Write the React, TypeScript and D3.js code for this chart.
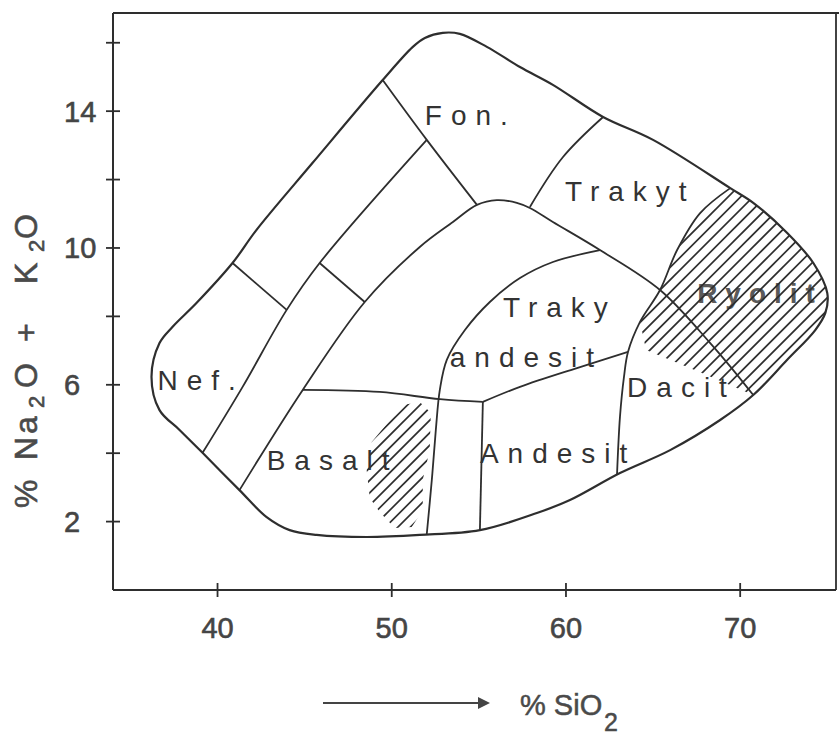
import React from 'react';
import * as d3 from 'd3';

type P = [number, number];

const W = 839;
const H = 740;

// axis ticks
const xTicks = [40, 50, 60, 70];
const yTicks = [2, 4, 6, 8, 10, 12, 14, 16];
const yTickLabels = [2, 6, 10, 14];

// outer boundary of the field (SiO2 %, Na2O+K2O %)
const outerBoundary: P[] = [
  [51.21, 15.88], [51.9, 16.14], [52.93, 16.29], [53.91, 16.26], [55.46, 15.88],
  [57.36, 15.29], [59.25, 14.77], [62.13, 13.83], [65.0, 13.16], [69.43, 11.75],
  [70.75, 11.32], [72.7, 10.44], [74.2, 9.56], [75.0, 8.68], [74.89, 8.1],
  [74.31, 7.6], [72.7, 6.73], [70.75, 5.7], [68.85, 4.97], [65.98, 4.09],
  [63.1, 3.42], [60.23, 2.63], [58.33, 2.25], [55.06, 1.75], [51.61, 1.61],
  [48.56, 1.55], [45.69, 1.61], [44.14, 1.75], [42.82, 2.13], [41.26, 2.92],
  [39.14, 4.01], [37.82, 4.68], [36.67, 5.26], [36.21, 6.23], [36.67, 7.22],
  [37.41, 7.69], [38.79, 8.39], [40.86, 9.56], [42.24, 10.53], [45.46, 12.49],
  [49.48, 14.91],
];

// internal dividing lines
const fonLeft: P[] = [[49.48, 14.91], [52.01, 13.16], [54.89, 11.26]];
const fonRight: P[] = [[62.13, 13.83], [59.83, 12.66], [57.93, 11.2]];
const lineB: P[] = [[52.01, 13.16], [45.86, 9.56], [43.97, 8.19], [41.44, 5.94], [39.14, 4.01]];
const cross1: P[] = [[40.86, 9.56], [43.97, 8.19]];
const cross2: P[] = [[45.86, 9.56], [48.45, 8.42]];
const lineC: P[] = [
  [41.26, 2.92], [44.89, 5.85], [48.45, 8.42], [51.61, 10.03], [53.51, 10.76],
  [54.89, 11.26], [56.03, 11.4], [57.18, 11.32], [57.93, 11.17], [59.25, 10.76],
  [61.95, 9.94], [65.4, 8.77], [68.28, 7.22], [69.6, 6.43], [70.75, 5.7],
];
const basaltTop: P[] = [[44.89, 5.85], [49.31, 5.79], [52.76, 5.58], [55.23, 5.5]];
const andesiteTop: P[] = [[55.23, 5.5], [57.36, 5.94], [60.63, 6.49], [63.56, 6.96]];
const trachyandesiteArc: P[] = [
  [61.95, 9.94], [59.25, 9.59], [57.36, 9.12], [55.63, 8.42], [54.2, 7.6],
  [53.16, 6.73], [52.76, 5.85], [52.53, 4.68], [52.3, 3.22], [52.01, 1.63],
];
const andesiteLeft: P[] = [[55.23, 5.5], [55.06, 1.75]];
const daciteArc: P[] = [
  [69.43, 11.75], [67.7, 11.02], [66.38, 9.94], [65.4, 8.77], [64.25, 7.84],
  [63.56, 6.96], [63.33, 6.23], [63.1, 5.06], [62.93, 3.36],
];

const dividers: P[][] = [
  fonLeft, fonRight, lineB, cross1, cross2, lineC, basaltTop, andesiteTop,
  trachyandesiteArc, andesiteLeft, daciteArc,
];

// hatched areas
const rhyoliteHatch: P[] = [
  [69.43, 11.75], [71, 13], [78, 13], [78, 4.5], [72.5, 5.3], [70.75, 5.7],
  [67.7, 6.37], [64.6, 7.02], [64.25, 7.84], [65.4, 8.77], [66.38, 9.94], [67.7, 11.02],
];
const basaltHatch: P[] = [
  [48.85, 4.33], [50.63, 5.41], [51.61, 5.5], [52.24, 5.18], [52.18, 4.09],
  [51.78, 3.22], [51.78, 2.34], [51.15, 1.84], [50.17, 1.81], [49.31, 2.28],
  [48.74, 2.69], [48.56, 3.51],
];

// field labels: text, SiO2 (start), alkali (baseline)
const fieldNames = ['Fon.', 'Trakyt', 'Traky', 'andesit', 'Dacit', 'Nef.', 'Basalt', 'Andesit'];
const fieldX = [51.9, 59.94, 56.38, 53.33, 63.51, 36.55, 42.82, 55.06];
const fieldY = [13.6, 11.37, 7.98, 6.52, 5.64, 5.85, 3.51, 3.71];
const rhyoliteLabel = { text: 'Ryolit', x: 67.53, y: 8.39 };

const FONT = "'Liberation Sans', Arial, Helvetica, sans-serif";
const INK = '#2e2e2e';

export default function App() {
  const x = d3.scaleLinear().domain([34, 75.5]).range([113, 836]);
  const y = d3.scaleLinear().domain([0, 16.87]).range([590, 13]);

  const closedCurve = d3
    .line<P>()
    .x((d) => x(d[0]))
    .y((d) => y(d[1]))
    .curve(d3.curveCatmullRomClosed.alpha(0.5));
  const openCurve = d3
    .line<P>()
    .x((d) => x(d[0]))
    .y((d) => y(d[1]))
    .curve(d3.curveCatmullRom.alpha(0.5));
  const poly = d3
    .line<P>()
    .x((d) => x(d[0]))
    .y((d) => y(d[1]));

  const hatchOffsets = d3.range(0, W + H + 20, 12.5);
  const hatchLines = hatchOffsets.map((c) => (
    <line key={c} x1={0} y1={c} x2={c} y2={0} stroke={INK} strokeWidth={1.7} />
  ));

  const x0 = x(34);
  const x1 = x(75.5);
  const yb = y(0);
  const yt = y(16.87);

  return (
    <svg
      width={W}
      height={H}
      style={{ position: 'absolute', left: 0, top: 0, background: '#fff', display: 'block' }}
    >
      <rect x={0} y={0} width={W} height={H} fill="#fff" />
      <defs>
        <clipPath id="outerClip">
          <path d={closedCurve(outerBoundary) || ''} />
        </clipPath>
        <clipPath id="rhyClip">
          <path d={(poly(rhyoliteHatch) || '') + 'Z'} />
        </clipPath>
        <clipPath id="basClip">
          <path d={(poly(basaltHatch) || '') + 'Z'} />
        </clipPath>
      </defs>

      {/* frame */}
      <line x1={x0} y1={yt} x2={W} y2={yt} stroke={INK} strokeWidth={1.8} />
      <line x1={x0} y1={yt} x2={x0} y2={yb} stroke={INK} strokeWidth={2} />
      <line x1={x0} y1={yb} x2={x1} y2={yb} stroke={INK} strokeWidth={2} />
      <line x1={x1} y1={yt} x2={x1} y2={yb} stroke={INK} strokeWidth={1.8} />

      {/* y ticks */}
      {yTicks.map((t) => (
        <line key={'yt' + t} x1={x0 - 7} x2={x0 + 7} y1={y(t)} y2={y(t)} stroke={INK} strokeWidth={1.8} />
      ))}
      {yTickLabels.map((t) => (
        <text
          key={'yl' + t}
          x={64}
          y={y(t) + 10.5}
          fontSize={29}
          fontFamily={FONT}
          fill="#454545"
          stroke="#454545"
          strokeWidth={0.6}
        >
          {t}
        </text>
      ))}

      {/* x ticks */}
      {xTicks.map((t) => (
        <g key={'xt' + t}>
          <line x1={x(t)} x2={x(t)} y1={yb - 7} y2={yb + 7} stroke={INK} strokeWidth={1.8} />
          <text
            x={x(t)}
            y={638}
            textAnchor="middle"
            fontSize={29}
            fontFamily={FONT}
            fill="#454545"
            stroke="#454545"
            strokeWidth={0.6}
          >
            {t}
          </text>
        </g>
      ))}

      {/* Ryolit label (under hatch) */}
      <text
        x={x(rhyoliteLabel.x)}
        y={y(rhyoliteLabel.y)}
        fontSize={28}
        fontWeight="bold"
        letterSpacing={8}
        fontFamily={FONT}
        fill="#5a5a5a"
      >
        {rhyoliteLabel.text}
      </text>

      {/* hatching */}
      <g clipPath="url(#outerClip)">
        <g clipPath="url(#rhyClip)">{hatchLines}</g>
        <g clipPath="url(#basClip)">{hatchLines}</g>
      </g>

      {/* outer boundary */}
      <path d={closedCurve(outerBoundary) || ''} fill="none" stroke={INK} strokeWidth={2.2} />

      {/* dividing lines */}
      {dividers.map((l, i) => (
        <path key={'d' + i} d={openCurve(l) || ''} fill="none" stroke={INK} strokeWidth={1.8} />
      ))}

      {/* field labels */}
      {fieldNames.map((n, i) => (
        <text
          key={'f' + i}
          x={x(fieldX[i])}
          y={y(fieldY[i])}
          fontSize={28}
          letterSpacing={9}
          fontFamily={FONT}
          fill="#333"
        >
          {n}
        </text>
      ))}

      {/* y axis title */}
      <g transform="translate(37,0) rotate(-90)">
        <text fontSize={32} fontFamily={FONT} fill="#4a4a4a" stroke="#4a4a4a" strokeWidth={0.6}>
          <tspan x={-508} y={0}>%</tspan>
          <tspan x={-460} y={0} letterSpacing={3}>Na</tspan>
          <tspan x={-408} y={7} fontSize={22}>2</tspan>
          <tspan x={-388} y={0}>O</tspan>
          <tspan x={-342} y={0}>+</tspan>
          <tspan x={-284} y={0}>K</tspan>
          <tspan x={-252} y={7} fontSize={22}>2</tspan>
          <tspan x={-239} y={0}>O</tspan>
        </text>
      </g>

      {/* x axis title with arrow */}
      <line x1={323} y1={703} x2={482} y2={703} stroke="#444" strokeWidth={2.2} />
      <path d="M478,697 L490,703 L478,709 Z" fill="#444" />
      <text fontSize={29} fontFamily={FONT} fill="#4a4a4a" stroke="#4a4a4a" strokeWidth={0.5}>
        <tspan x={520} y={715}>% SiO</tspan>
        <tspan x={604} y={731} fontSize={25}>2</tspan>
      </text>
    </svg>
  );
}
